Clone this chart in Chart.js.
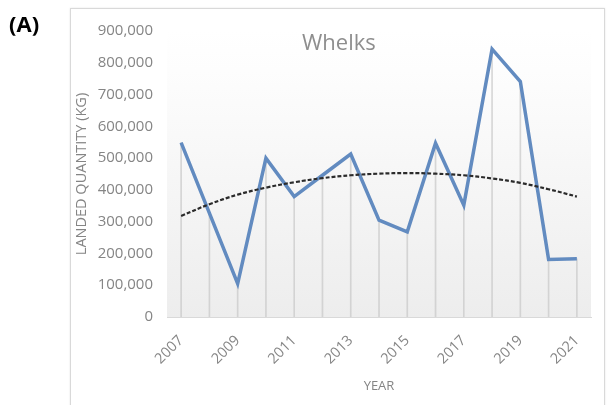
<!DOCTYPE html>
<html>
<head>
<meta charset="utf-8">
<script src="https://cdn.jsdelivr.net/npm/chart.js@4.4.1/dist/chart.umd.min.js"></script>
<style>
  html, body { margin: 0; padding: 0; background: #fff; }
  #wrap { position: relative; width: 607px; height: 405px; overflow: hidden; }
  #box { position: absolute; left: 70px; top: 8px; width: 533px; height: 420px;
         border: 1px solid #d9d9d9; box-shadow: 0 0 2px #e6e6e6; }
  #panel { position: absolute; left: 9px; top: 10px; font: bold 22px "Open Sans", Arial, sans-serif; color: #000; line-height: 26px; }
  #title { position: absolute; left: 302px; top: 26px; font: 22px "Open Sans", sans-serif; color: #8e8e8e; line-height: 30px; }
  canvas { position: absolute; left: 0; top: 0; }
</style>
</head>
<body>
<div id="wrap">
  <div id="box"></div>
  <canvas id="chart" width="607" height="405"></canvas>
  <div id="panel">(A)</div>
  <div id="title">Whelks</div>
</div>
<script>
const years = ['2007','2008','2009','2010','2011','2012','2013','2014','2015','2016','2017','2018','2019','2020','2021'];
const landed = [549000, 327000, 105000, 500000, 379000, 446000, 513000, 305000, 268000, 547000, 352000, 843000, 741000, 181000, 183000];
const trend = [318000, 355000, 385000, 407000, 424000, 437000, 446000, 451000, 453000, 451000, 446000, 436000, 422000, 402000, 379000];
const yTicks = { min: 0, max: 900000, step: 100000 };

// soft grey gradient behind the plot, like the Excel chart area
const plotBg = {
  id: 'plotBg',
  beforeDraw(chart) {
    const { ctx, chartArea: a } = chart;
    const g = ctx.createLinearGradient(0, a.top, 0, a.bottom);
    g.addColorStop(0, 'rgba(255,255,255,1)');
    g.addColorStop(0.2, 'rgba(252,252,252,1)');
    g.addColorStop(1, 'rgba(237,237,237,1)');
    ctx.save();
    ctx.fillStyle = g;
    ctx.fillRect(a.left, a.top, a.right - a.left, a.bottom - a.top);
    ctx.restore();
  }
};

const config = {
  data: {
    labels: years,
    datasets: [
      {
        type: 'line',
        label: 'Landed quantity',
        data: landed,
        borderColor: 'rgb(98,139,192)',
        borderWidth: 3.5,
        pointRadius: 0,
        tension: 0,
        order: 1
      },
      {
        type: 'line',
        label: 'Trend',
        data: trend,
        borderColor: '#2b2b2b',
        borderWidth: 2.2,
        borderDash: [4, 2],
        pointRadius: 0,
        tension: 0.4,
        order: 0
      },
      {
        type: 'bar',
        label: 'Drop lines',
        data: landed,
        backgroundColor: 'rgba(200,200,200,0.7)',
        barThickness: 1,
        order: 3
      }
    ]
  },
  options: {
    responsive: false,
    animation: false,
    layout: { padding: { left: 71, top: 31, right: 16, bottom: 10 } },
    plugins: {
      legend: { display: false },
      tooltip: { enabled: false }
    },
    scales: {
      x: {
        offset: true,
        grid: { display: false, drawTicks: false },
        border: { display: true, color: '#d9d9d9' },
        ticks: {
          autoSkip: false,
          maxRotation: 45,
          minRotation: 45,
          padding: 15,
          color: '#858585',
          font: { family: 'Open Sans', size: 14.5 },
          callback: (v, i) => i % 2 === 0 ? years[i] : ''
        },
        title: {
          display: true,
          text: 'YEAR',
          color: '#858585',
          font: { family: 'Open Sans', size: 13 },
          padding: { top: 4, bottom: 1 }
        },
        afterFit: s => { s.height = 78; }
      },
      y: {
        min: yTicks.min,
        max: yTicks.max,
        grid: { display: false, drawTicks: false },
        border: { display: false },
        ticks: {
          stepSize: yTicks.step,
          padding: 14,
          color: '#858585',
          font: { family: 'Open Sans', size: 15 },
          callback: v => v.toLocaleString('en-US')
        },
        title: {
          display: true,
          text: 'LANDED QUANTITY (KG)',
          color: '#858585',
          font: { family: 'Open Sans', size: 14.5 },
          padding: { top: 2, bottom: 2 }
        },
        afterFit: s => { s.width = 96; }
      }
    }
  },
  plugins: [plotBg]
};

var chart = new Chart(document.getElementById('chart'), config);
</script>
</body>
</html>
